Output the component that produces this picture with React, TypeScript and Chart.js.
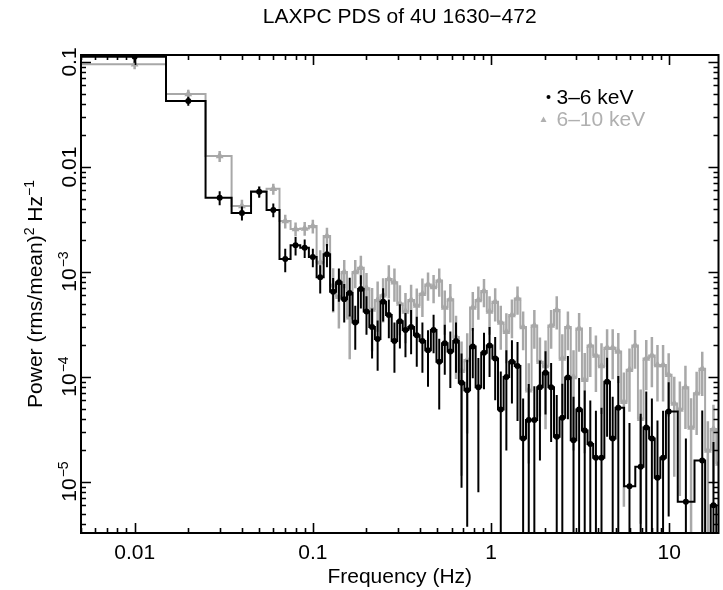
import React, { useEffect, useRef } from 'react';
import { Chart, registerables } from 'chart.js';

Chart.register(...registerables);

// ---------- text ----------
const TITLE = 'LAXPC PDS of 4U 1630\u2212472';
const X_TITLE = 'Frequency (Hz)';
const LEGEND_LABELS = ['3\u20136 keV', '6\u201310 keV'];

// ---------- axes ----------
const X_MIN = 0.005;
const X_MAX = 18.9;
const Y_MIN = 3.27e-6;
const Y_MAX = 0.1166;
const X_TICK_VALUES = [0.01, 0.1, 1, 10];
const X_TICK_LABELS = ['0.01', '0.1', '1', '10'];
const Y_TICK_VALUES = [0.1, 0.01, 0.001, 0.0001, 0.00001];
const Y_TICK_BASE = ['0.1', '0.01', '10', '10', '10'];
const Y_TICK_EXP = ['', '', '\u22123', '\u22124', '\u22125'];

// ---------- data: 3-6 keV (black) ----------
const FREQ_SOFT = [
  0.01, 0.02, 0.03, 0.04, 0.05, 0.06, 0.07, 0.08, 0.09, 0.10, 0.11, 0.12,
  0.13, 0.14, 0.15, 0.161, 0.173, 0.186, 0.2,
  0.215, 0.231, 0.248, 0.267, 0.287, 0.308, 0.331, 0.356, 0.383, 0.412, 0.443, 0.476, 0.512, 0.55,
  0.591, 0.636, 0.683, 0.735, 0.79, 0.849, 0.913, 0.981,
  1.055, 1.134, 1.219, 1.31, 1.408, 1.514, 1.628, 1.75, 1.881, 2.022, 2.174, 2.337, 2.512, 2.7,
  2.903, 3.121, 3.355, 3.606, 3.877, 4.168, 4.48, 4.816, 5.178,
  5.983, 6.915, 7.433, 7.991, 8.59, 9.234, 9.927, 12.4, 15.32, 16.47, 17.71, 19.03,
];
const POWER_SOFT = [
  0.112, 0.0425, 0.0051, 0.00365, 0.0058, 0.0039, 0.00133, 0.0018, 0.0017, 0.00139, 0.00089, 0.00148,
  6.5e-4, 8.0e-4, 5.5e-4, 6.3e-4, 3.3e-4, 6.9e-4, 4.2e-4,
  3.0e-4, 2.3e-4, 5.2e-4, 3.9e-4, 2.2e-4, 3.4e-4, 2.8e-4, 3.0e-4, 2.5e-4, 2.2e-4, 1.8e-4, 2.8e-4, 1.4e-4, 2.1e-4,
  1.75e-4, 2.2e-4, 8.8e-5, 7.5e-5, 1.95e-4, 8.0e-5, 1.7e-4, 2.0e-4,
  1.5e-4, 4.9e-5, 1.0e-4, 1.4e-4, 1.27e-4, 2.6e-5, 3.9e-5, 3.9e-5, 8.0e-5, 1.1e-4, 8.0e-5, 2.7e-5, 4.1e-5, 9.9e-5,
  2.5e-5, 4.9e-5, 3.1e-5, 2.3e-5, 1.7e-5, 1.7e-5, 9.0e-5, 2.6e-5, 5.1e-5,
  9.1e-6, 1.4e-5, 3.3e-5, 2.6e-5, 1.1e-5, 1.7e-5, 4.7e-5, 6.5e-6, 1.6e-5, 1.0e-6, 6.0e-6, 1.0e-6,
];
const REL_ERR_SOFT = [
  0.12, 0.1, 0.15, 0.15, 0.12, 0.15, 0.25, 0.2, 0.2, 0.2, 0.3, 0.25,
  0.35, 0.35, 0.4, 0.4, 0.45, 0.35, 0.4,
  0.5, 0.5, 0.35, 0.4, 0.5, 0.45, 0.45, 0.45, 0.5, 0.5, 0.55, 0.4, 0.65, 0.5,
  0.55, 0.5, 0.9, 0.95, 0.5, 0.9, 0.55, 0.5,
  0.6, 1.3, 0.8, 0.6, 0.7, 1.4, 1.2, 1.1, 0.8, 0.6, 0.7, 1.5, 1.1, 0.6,
  1.6, 1.0, 1.4, 1.6, 1.8, 2.0, 0.7, 1.5, 1.0,
  3.0, 2.2, 1.2, 1.4, 2.5, 1.8, 0.9, 3.0, 2.0, 0, 3.0, 0,
];

// ---------- data: 6-10 keV (grey) ----------
const FREQ_HARD = [
  0.01, 0.02, 0.03, 0.04, 0.05, 0.06, 0.07, 0.08, 0.09, 0.10, 0.11, 0.12,
  0.13, 0.14, 0.15, 0.161, 0.173, 0.186, 0.2,
  0.215, 0.231, 0.248, 0.267, 0.287, 0.308, 0.331, 0.356, 0.383, 0.412, 0.443, 0.476, 0.512, 0.55,
  0.591, 0.636, 0.683, 0.735, 0.79, 0.849, 0.913, 0.981,
  1.055, 1.134, 1.219, 1.31, 1.408, 1.514, 1.628, 1.75, 1.881, 2.022, 2.174, 2.337, 2.512, 2.7,
  2.903, 3.121, 3.355, 3.606, 3.877, 4.168, 4.48, 4.816, 5.178, 5.566, 5.983, 6.432,
  6.915, 7.433, 7.991, 8.59, 9.234, 9.927, 10.67, 11.47, 12.33, 13.26, 14.25, 15.32, 16.47, 17.71, 19.03,
];
const POWER_HARD = [
  0.095, 0.0495, 0.0127, 0.00425, 0.0059, 0.0062, 0.00306, 0.00257, 0.0026, 0.00274, 0.00124, 0.0022,
  7.5e-4, 5.8e-4, 1.0e-3, 3.7e-4, 1.0e-3, 1.1e-3, 7.0e-4,
  4.4e-4, 5.4e-4, 6.0e-4, 8.6e-4, 8.0e-4, 5.0e-4, 4.2e-4, 5.4e-4, 4.8e-4, 6.2e-4, 7.6e-4, 7.2e-4, 8.3e-4, 4.6e-4,
  5.5e-4, 2.4e-4, 1.15e-4, 1.45e-4, 4.6e-4, 5.4e-4, 6.6e-4, 4.2e-4,
  5.2e-4, 3.3e-4, 2.7e-4, 3.9e-4, 5.6e-4, 3.0e-4, 7.5e-5, 3.1e-4, 1.4e-4, 1.27e-4, 3.1e-4, 4.35e-4, 1.5e-4, 3.0e-4,
  1.0e-4, 2.9e-4, 9.4e-5, 2.0e-4, 1.6e-4, 1.27e-4, 1.9e-4, 1.9e-4, 1.75e-4, 5.8e-5, 1.17e-4, 2.0e-4,
  4.0e-5, 1.5e-4, 1.6e-4, 1.3e-4, 1.3e-4, 1.05e-4, 5.6e-5, 4.9e-5, 8.0e-5, 3.3e-5, 7.0e-5, 1.2e-4, 2.0e-5, 3.2e-5, 1.5e-5,
];
const REL_ERR_HARD = [
  0.1, 0.1, 0.12, 0.15, 0.12, 0.12, 0.15, 0.15, 0.15, 0.15, 0.3, 0.2,
  0.45, 0.5, 0.3, 0.6, 0.3, 0.3, 0.4,
  0.6, 0.5, 0.45, 0.35, 0.35, 0.5, 0.5, 0.4, 0.45, 0.4, 0.3, 0.3, 0.3, 0.45,
  0.4, 0.6, 0.9, 0.8, 0.4, 0.35, 0.3, 0.4,
  0.35, 0.45, 0.5, 0.4, 0.3, 0.4, 0.8, 0.4, 0.7, 0.75, 0.4, 0.35, 0.7, 0.4,
  0.8, 0.4, 0.8, 0.5, 0.55, 0.65, 0.5, 0.5, 0.5, 0.9, 0.6, 0.4,
  0.9, 0.5, 0.5, 0.55, 0.55, 0.6, 0.8, 0.85, 0.6, 0.9, 0.6, 0.45, 0.9, 0.7, 0.9,
];

// ---------- styles ----------
const BLACK = '#000000';
const GREY = '#a8a8a8';
const GREY_TEXT = '#b0b0b0';
const FONT = '"Liberation Sans", Arial, Helvetica, sans-serif';

type Pt = { x: number; y: number | null };

function stepPoints(freqs: number[], pows: number[]): Pt[] {
  const n = freqs.length;
  const edges: number[] = [freqs[0] - (freqs[1] - freqs[0]) / 2];
  for (let i = 0; i < n - 1; i++) edges.push((freqs[i] + freqs[i + 1]) / 2);
  edges.push(freqs[n - 1] + (freqs[n - 1] - freqs[n - 2]) / 2);
  const pts: Pt[] = [];
  for (let i = 0; i < n; i++) {
    pts.push({ x: edges[i], y: pows[i] });
    pts.push({ x: edges[i + 1], y: pows[i] });
  }
  return pts;
}

function errorPoints(freqs: number[], pows: number[], rel: number[]): Pt[] {
  const pts: Pt[] = [];
  for (let i = 0; i < freqs.length; i++) {
    const e = pows[i] * rel[i];
    if (!(e > 0)) continue;
    const lo = pows[i] - e > 0 ? pows[i] - e : Y_MIN / 10;
    pts.push({ x: freqs[i], y: lo });
    pts.push({ x: freqs[i], y: pows[i] + e });
    pts.push({ x: freqs[i], y: null });
  }
  return pts;
}

function markerPoints(freqs: number[], pows: number[]): Pt[] {
  return freqs.map((f, i) => ({ x: f, y: pows[i] }));
}

const axesPlugin = {
  id: 'pdsAxes',
  afterDatasetsDraw(chart: any) {
    const ctx: CanvasRenderingContext2D = chart.ctx;
    const { left, right, top, bottom } = chart.chartArea;
    const xs = chart.scales.x;
    const ys = chart.scales.y;
    ctx.save();
    ctx.strokeStyle = BLACK;
    ctx.fillStyle = BLACK;
    ctx.lineWidth = 2;
    ctx.lineCap = 'butt';
    // frame
    ctx.strokeRect(left, top, right - left, bottom - top);
    // ticks
    ctx.lineWidth = 1.6;
    ctx.beginPath();
    for (let p = -3; p <= 1; p++) {
      for (let k = 1; k <= 9; k++) {
        const v = k * Math.pow(10, p);
        if (v < X_MIN || v > X_MAX) continue;
        const px = Math.round(xs.getPixelForValue(v)) + 0.5;
        const len = k === 1 ? 10 : 5;
        ctx.moveTo(px, bottom);
        ctx.lineTo(px, bottom - len);
        ctx.moveTo(px, top);
        ctx.lineTo(px, top + len);
      }
    }
    for (let p = -6; p <= -1; p++) {
      for (let k = 1; k <= 9; k++) {
        const v = k * Math.pow(10, p);
        if (v < Y_MIN || v > Y_MAX) continue;
        const py = Math.round(ys.getPixelForValue(v)) + 0.5;
        const len = k === 1 ? 10 : 5;
        ctx.moveTo(left, py);
        ctx.lineTo(left + len, py);
        ctx.moveTo(right, py);
        ctx.lineTo(right - len, py);
      }
    }
    ctx.stroke();

    // x tick labels
    ctx.font = `21px ${FONT}`;
    ctx.textAlign = 'center';
    ctx.textBaseline = 'alphabetic';
    X_TICK_VALUES.forEach((v, i) => {
      ctx.fillText(X_TICK_LABELS[i], xs.getPixelForValue(v), bottom + 26);
    });
    // x title
    ctx.fillText(X_TITLE, (left + right) / 2, bottom + 50);
    // title
    ctx.fillText(TITLE, (left + right) / 2, 23);

    // y tick labels (rotated)
    Y_TICK_VALUES.forEach((v, i) => {
      const py = ys.getPixelForValue(v);
      ctx.save();
      ctx.translate(left - 5, py);
      ctx.rotate(-Math.PI / 2);
      ctx.textAlign = 'left';
      ctx.font = `21px ${FONT}`;
      const w1 = ctx.measureText(Y_TICK_BASE[i]).width;
      ctx.font = `14px ${FONT}`;
      const w2 = Y_TICK_EXP[i] ? ctx.measureText(Y_TICK_EXP[i]).width : 0;
      const start = -(w1 + w2) / 2;
      ctx.font = `21px ${FONT}`;
      ctx.fillText(Y_TICK_BASE[i], start, 0);
      if (Y_TICK_EXP[i]) {
        ctx.font = `14px ${FONT}`;
        ctx.fillText(Y_TICK_EXP[i], start + w1 + 1, -8);
      }
      ctx.restore();
    });

    // y title with superscripts
    {
      const parts: [string, number, number][] = [
        ['Power (rms/mean)', 21, 0],
        ['2', 14, -8],
        [' Hz', 21, 0],
        ['\u22121', 14, -8],
      ];
      ctx.save();
      ctx.translate(42, (top + bottom) / 2);
      ctx.rotate(-Math.PI / 2);
      ctx.textAlign = 'left';
      let total = 0;
      const widths = parts.map(([t, s]) => {
        ctx.font = `${s}px ${FONT}`;
        const w = ctx.measureText(t).width;
        total += w;
        return w;
      });
      let cx = -total / 2;
      parts.forEach(([t, s, dy], i) => {
        ctx.font = `${s}px ${FONT}`;
        ctx.fillText(t, cx, dy);
        cx += widths[i];
      });
      ctx.restore();
    }

    // legend
    const lx = right - 170;
    ctx.textAlign = 'left';
    ctx.font = `21px ${FONT}`;
    ctx.beginPath();
    ctx.arc(lx, 97, 2, 0, Math.PI * 2);
    ctx.fill();
    ctx.fillText(LEGEND_LABELS[0], lx + 8, 104);
    ctx.fillStyle = GREY_TEXT;
    ctx.beginPath();
    ctx.moveTo(lx - 5, 116.5);
    ctx.lineTo(lx - 8, 122);
    ctx.lineTo(lx - 2, 122);
    ctx.closePath();
    ctx.fill();
    ctx.fillText(LEGEND_LABELS[1], lx + 8, 126);
    ctx.restore();
  },
};

export default function App() {
  const canvasRef = useRef<HTMLCanvasElement | null>(null);

  useEffect(() => {
    const canvas = canvasRef.current;
    if (!canvas) return;
    const chart = new Chart(canvas, {
      type: 'line',
      data: {
        datasets: [
          {
            label: 'soft markers',
            data: markerPoints(FREQ_SOFT, POWER_SOFT),
            showLine: false,
            pointStyle: 'circle',
            pointRadius: 3,
            pointBackgroundColor: BLACK,
            pointBorderWidth: 0,
            borderColor: BLACK,
          },
          {
            label: 'soft errors',
            data: errorPoints(FREQ_SOFT, POWER_SOFT, REL_ERR_SOFT),
            borderColor: BLACK,
            borderWidth: 2,
            pointRadius: 0,
            spanGaps: false,
          },
          {
            label: LEGEND_LABELS[0],
            data: stepPoints(FREQ_SOFT, POWER_SOFT),
            borderColor: BLACK,
            borderWidth: 2,
            pointRadius: 0,
          },
          {
            label: 'hard markers',
            data: markerPoints(FREQ_HARD, POWER_HARD),
            showLine: false,
            pointStyle: 'triangle',
            pointRadius: 4.5,
            pointBackgroundColor: GREY,
            pointBorderWidth: 0,
            borderColor: GREY,
          },
          {
            label: 'hard errors',
            data: errorPoints(FREQ_HARD, POWER_HARD, REL_ERR_HARD),
            borderColor: GREY,
            borderWidth: 2.5,
            pointRadius: 0,
            spanGaps: false,
          },
          {
            label: LEGEND_LABELS[1],
            data: stepPoints(FREQ_HARD, POWER_HARD),
            borderColor: GREY,
            borderWidth: 2,
            pointRadius: 0,
          },
        ] as any,
      },
      options: {
        animation: false,
        responsive: false,
        maintainAspectRatio: false,
        layout: { padding: { left: 81, top: 55, right: 1, bottom: 57 } },
        plugins: {
          legend: { display: false },
          tooltip: { enabled: false },
          title: { display: false },
        },
        elements: { line: { tension: 0 } },
        scales: {
          x: { type: 'logarithmic', min: X_MIN, max: X_MAX, display: false },
          y: { type: 'logarithmic', min: Y_MIN, max: Y_MAX, display: false },
        },
      },
      plugins: [axesPlugin],
    });
    return () => chart.destroy();
  }, []);

  return (
    <div style={{ position: 'fixed', left: 0, top: 0, width: 723, height: 590, background: '#ffffff' }}>
      <canvas ref={canvasRef} width={723} height={590} style={{ width: 723, height: 590 }} />
    </div>
  );
}
